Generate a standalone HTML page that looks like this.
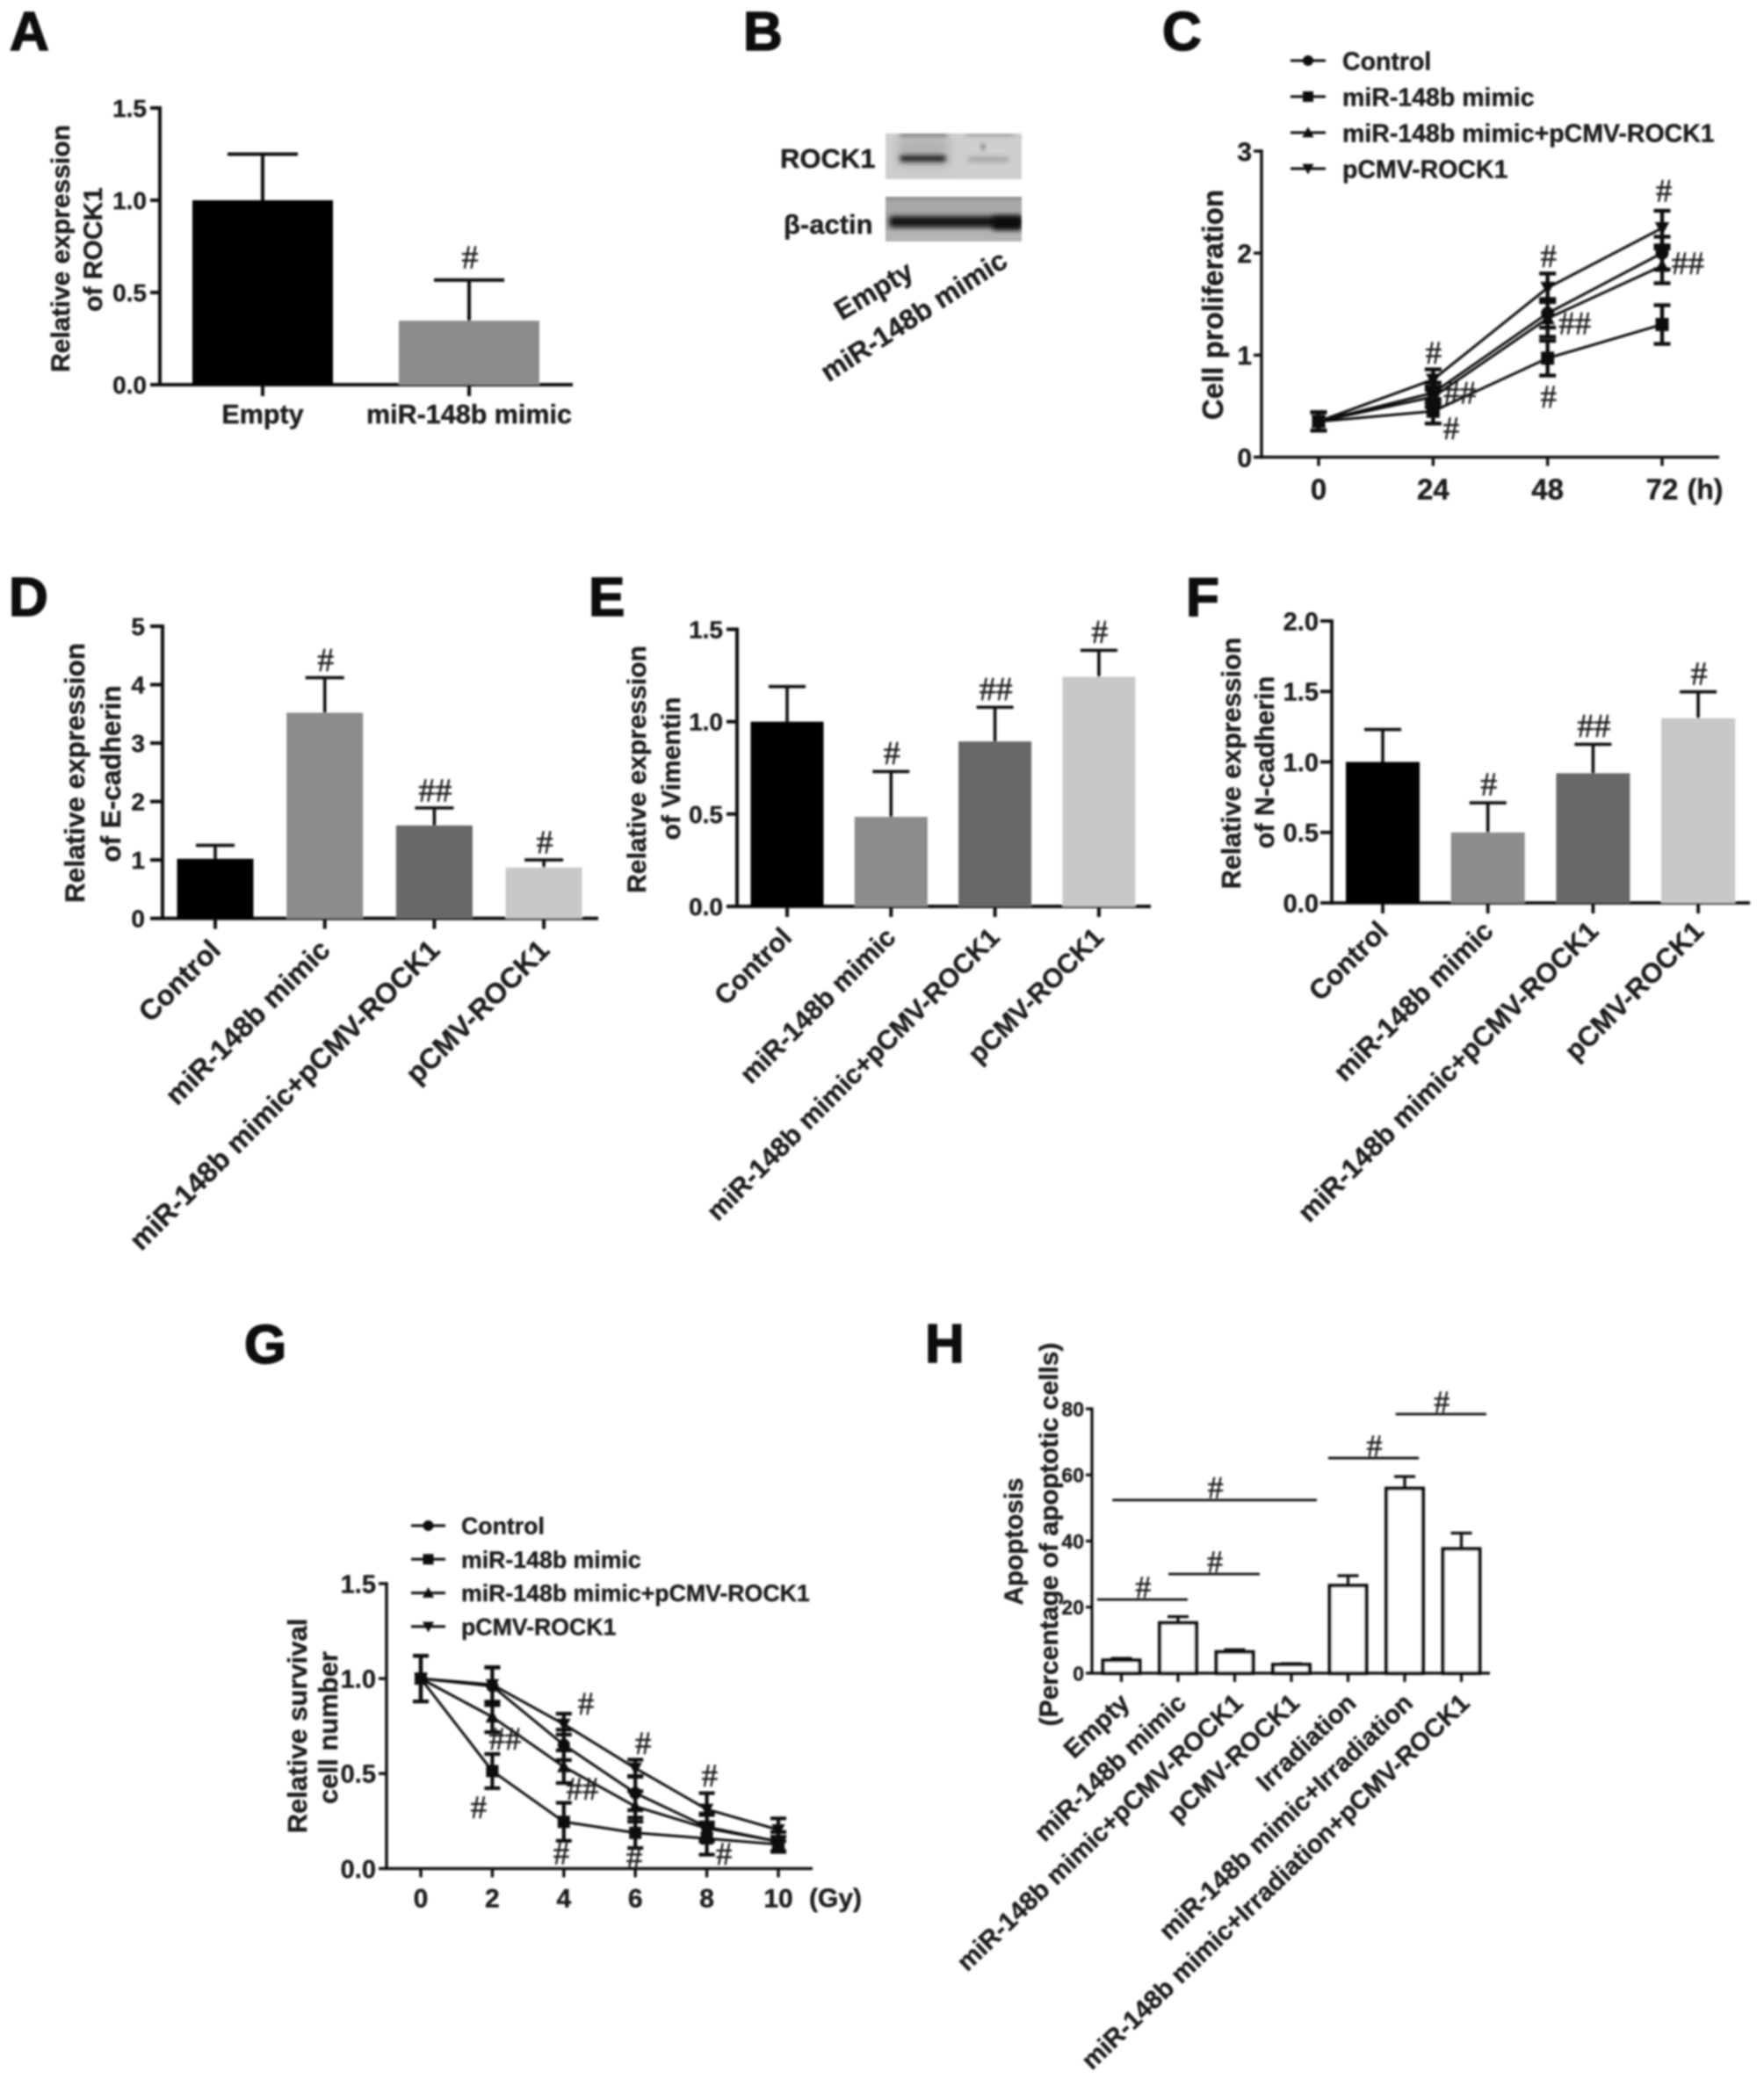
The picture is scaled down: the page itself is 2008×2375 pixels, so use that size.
<!DOCTYPE html>
<html lang="en">
<head>
<meta charset="utf-8">
<title>ROCK1 multi-panel figure</title>
<style>
html,body{margin:0;padding:0;background:#fff;}
svg{display:block;}
text{font-family:"Liberation Sans",sans-serif;font-weight:bold;fill:#1c1c1c;stroke:#1c1c1c;stroke-width:0.4px;}
.panel-letter{font-size:62px;fill:#0a0a0a;stroke:#0a0a0a;stroke-width:1.6px;}
.hash{font-family:"Liberation Serif",serif;font-weight:normal;fill:#1c1c1c;stroke:#1c1c1c;stroke-width:0.5px;}
</style>
</head>
<body>
<svg id="figure" xmlns="http://www.w3.org/2000/svg" width="2008" height="2375" viewBox="0 0 2008 2375">
<defs>
<filter id="soft" filterUnits="userSpaceOnUse" x="0" y="0" width="2008" height="2375"><feGaussianBlur stdDeviation="1"/></filter>
<filter id="blotBlur" x="-20%" y="-100%" width="140%" height="300%"><feGaussianBlur stdDeviation="2.6"/></filter>
<filter id="blotBlurWide" x="-20%" y="-100%" width="140%" height="300%"><feGaussianBlur stdDeviation="6"/></filter>
<clipPath id="blotClip1"><rect x="1008" y="152" width="155" height="52"/></clipPath>
<clipPath id="blotClip2"><rect x="1008" y="224" width="155" height="51"/></clipPath>
</defs>
<rect width="2008" height="2375" fill="#fff"/>
<g id="root" filter="url(#soft)">

<g id="panelA">
<text class="panel-letter" x="11" y="57">A</text>
<text font-size="30" text-anchor="middle" transform="translate(79 283) rotate(-90)">Relative expression</text>
<text font-size="30" text-anchor="middle" transform="translate(116 284) rotate(-90)">of ROCK1</text>
</g>

<g id="panelB">
<text class="panel-letter" x="846" y="57">B</text>
<text font-size="31" x="888" y="191">ROCK1</text>
<text font-size="31" x="892" y="266">β-actin</text>
<g clip-path="url(#blotClip1)">
<rect x="1008" y="152" width="155" height="52" fill="#cfcfcf"/>
<rect x="1022" y="156" width="58" height="34" fill="#b2b2b2" filter="url(#blotBlurWide)"/>
<rect x="1024" y="150" width="54" height="5" fill="#707070" filter="url(#blotBlur)"/>
<rect x="1100" y="150" width="54" height="4" fill="#8a8a8a" filter="url(#blotBlur)"/>
<rect x="1024" y="177" width="53" height="7" rx="3" fill="#1c1c1c" filter="url(#blotBlur)"/>
<rect x="1102" y="179" width="46" height="5" fill="#9c9c9c" filter="url(#blotBlur)"/>
<circle cx="1119" cy="167" r="3" fill="#666" filter="url(#blotBlur)"/>
</g>
<g clip-path="url(#blotClip2)">
<rect x="1008" y="224" width="155" height="51" fill="#a8a8a8"/>
<rect x="1008" y="262" width="155" height="13" fill="#b4b4b4"/>
<rect x="1008" y="222" width="155" height="4" fill="#7c7c7c" filter="url(#blotBlur)"/>
<rect x="1012" y="246" width="151" height="13" rx="4" fill="#141414" filter="url(#blotBlur)"/>
<rect x="1130" y="246" width="33" height="16" fill="#101010" filter="url(#blotBlur)"/>
</g>
<text font-size="32" text-anchor="end" transform="translate(1042 315) rotate(-31)">Empty</text>
<text font-size="32" text-anchor="end" transform="translate(1149 302) rotate(-33)">miR-148b mimic</text>
</g>

<g id="panelC">
<text class="panel-letter" x="1323" y="57">C</text>
<text font-size="33" text-anchor="middle" transform="translate(1392 347) rotate(-90)">Cell proliferation</text>
<text font-size="32" text-anchor="middle" x="1941" y="568">(h)</text>
</g>

<g id="panelD">
<text class="panel-letter" x="10" y="701">D</text>
<text font-size="31.5" text-anchor="middle" transform="translate(96 880) rotate(-90)">Relative expression</text>
<text font-size="31.5" text-anchor="middle" transform="translate(137 881) rotate(-90)">of E-cadherin</text>
</g>

<g id="panelE">
<text class="panel-letter" x="670" y="701">E</text>
<text font-size="30" text-anchor="middle" transform="translate(735 876) rotate(-90)">Relative expression</text>
<text font-size="30" text-anchor="middle" transform="translate(774 875) rotate(-90)">of Vimentin</text>
</g>

<g id="panelF">
<text class="panel-letter" x="1350" y="701">F</text>
<text font-size="30.5" text-anchor="middle" transform="translate(1412 869) rotate(-90)">Relative expression</text>
<text font-size="30.5" text-anchor="middle" transform="translate(1450 868) rotate(-90)">of N-cadherin</text>
</g>

<g id="panelG">
<text class="panel-letter" x="278" y="1552">G</text>
<text font-size="31" text-anchor="middle" transform="translate(349 1965) rotate(-90)">Relative survival</text>
<text font-size="31" text-anchor="middle" transform="translate(384 1967) rotate(-90)">cell number</text>
<text font-size="30" text-anchor="middle" x="951" y="2171">(Gy)</text>
</g>

<g id="panelH">
<text class="panel-letter" x="1053" y="1551">H</text>
<text font-size="29.7" text-anchor="middle" transform="translate(1164 1755) rotate(-90)">Apoptosis</text>
<text font-size="30" text-anchor="middle" transform="translate(1204 1747) rotate(-90)">(Percentage of apoptotic cells)</text>
</g>
</g>
</svg>

<script>
/* ---------- Panel A data ---------- */
const panelACategories = ['Empty', 'miR-148b mimic'];
const panelAValues = [1.0, 0.347];
const panelAErrors = [0.25, 0.22];
const panelAMarks = ['', '#'];
const panelAYTicks = [0, 0.5, 1.0, 1.5];
const panelAYLabels = ['0.0', '0.5', '1.0', '1.5'];

/* ---------- Panels D / E / F data ---------- */
const treatmentCategories = ['Control', 'miR-148b mimic', 'miR-148b mimic+pCMV-ROCK1', 'pCMV-ROCK1'];
const panelDValues = [1.02, 3.52, 1.59, 0.87];
const panelDErrors = [0.23, 0.60, 0.30, 0.13];
const panelDMarks = ['', '#', '##', '#'];
const panelDYTicks = [0, 1, 2, 3, 4, 5];
const panelDYLabels = ['0', '1', '2', '3', '4', '5'];

const panelEValues = [1.0, 0.485, 0.893, 1.243];
const panelEErrors = [0.19, 0.245, 0.185, 0.143];
const panelEMarks = ['', '#', '##', '#'];
const panelEYTicks = [0, 0.5, 1.0, 1.5];
const panelEYLabels = ['0.0', '0.5', '1.0', '1.5'];

const panelFValues = [1.0, 0.5, 0.92, 1.31];
const panelFErrors = [0.23, 0.21, 0.205, 0.187];
const panelFMarks = ['', '#', '##', '#'];
const panelFYTicks = [0, 0.5, 1.0, 1.5, 2.0];
const panelFYLabels = ['0.0', '0.5', '1.0', '1.5', '2.0'];

/* ---------- Panel C data ---------- */
const seriesNames = ['Control', 'miR-148b mimic', 'miR-148b mimic+pCMV-ROCK1', 'pCMV-ROCK1'];
const panelCHours = [0, 24, 48, 72];
const panelCControl = [0.35, 0.63, 1.41, 2.0];
const panelCControlErr = [0.09, 0.1, 0.14, 0.16];
const panelCMimic = [0.35, 0.45, 0.97, 1.30];
const panelCMimicErr = [0.09, 0.12, 0.17, 0.19];
const panelCCombo = [0.35, 0.59, 1.36, 1.875];
const panelCComboErr = [0.09, 0.1, 0.18, 0.17];
const panelCPcmv = [0.35, 0.76, 1.66, 2.245];
const panelCPcmvErr = [0.09, 0.1, 0.14, 0.17];
const panelCYTicks = [0, 1, 2, 3];
const panelCYLabels = ['0', '1', '2', '3'];
const panelCXLabels = ['0', '24', '48', '72'];
const panelCHashLabels = ['#', '#', '##', '##', '#', '##', '#', '#'];
const panelCHashHours = [72.4, 48.2, 53.7, 77.4, 24.1, 29.6, 27.8, 48.2];
const panelCHashValues = [2.61, 1.97, 1.31, 1.90, 1.02, 0.63, 0.28, 0.59];

/* ---------- Panel G data ---------- */
const panelGDoses = [0, 2, 4, 6, 8, 10];
const panelGControl = [1.0, 0.96, 0.651, 0.397, 0.219, 0.142];
const panelGControlErr = [0.12, 0.1, 0.08, 0.09, 0.07, 0.05];
const panelGMimic = [1.0, 0.513, 0.246, 0.188, 0.158, 0.127];
const panelGMimicErr = [0.12, 0.09, 0.1, 0.08, 0.085, 0.04];
const panelGCombo = [1.0, 0.798, 0.536, 0.327, 0.212, 0.142];
const panelGComboErr = [0.12, 0.08, 0.086, 0.08, 0.07, 0.05];
const panelGPcmv = [1.0, 0.968, 0.76, 0.528, 0.312, 0.204];
const panelGPcmvErr = [0.12, 0.09, 0.055, 0.045, 0.085, 0.06];
const panelGYTicks = [0, 0.5, 1.0, 1.5];
const panelGYLabels = ['0.0', '0.5', '1.0', '1.5'];
const panelGXLabels = ['0', '2', '4', '6', '8', '10'];
const panelGHashLabels = ['#', '#', '#', '##', '##', '#', '#', '#', '#'];
const panelGHashDoses = [4.62, 6.22, 8.08, 2.36, 4.52, 1.62, 3.93, 5.97, 8.48];
const panelGHashValues = [0.868, 0.659, 0.488, 0.682, 0.419, 0.321, 0.08, 0.057, 0.076];

/* ---------- Panel H data ---------- */
const panelHCategories = ['Empty', 'miR-148b mimic', 'miR-148b mimic+pCMV-ROCK1', 'pCMV-ROCK1', 'Irradiation', 'miR-148b mimic+Irradiation', 'miR-148b mimic+Irradiation+pCMV-ROCK1'];
const panelHValues = [3.9, 15.2, 6.4, 2.6, 26.5, 55.9, 37.6];
const panelHErrors = [0.6, 1.9, 0.7, 0.3, 3.0, 3.6, 4.8];
const panelHYTicks = [0, 20, 40, 60, 80];
const panelHYLabels = ['0', '20', '40', '60', '80'];
const panelHBracketStarts = [-0.43, 0.83, -0.16, 3.65, 4.84];
const panelHBracketEnds = [1.17, 2.44, 3.45, 5.25, 6.44];
const panelHBracketLevels = [22.3, 30, 52.4, 65.1, 78.4];

/* ---------- Drawing helpers ---------- */
const NS = 'http://www.w3.org/2000/svg';

function shape(parent, tag, attrs, name) {
  const el = document.createElementNS(NS, tag);
  for (const k in attrs) el.setAttribute(k, attrs[k]);
  
  
  parent.appendChild(el);
  return el;
}

function label(parent, str, attrs, name) {
  const el = document.createElementNS(NS, 'text');
  for (const k in attrs) el.setAttribute(k, attrs[k]);
  el.textContent = str;
  
  
  parent.appendChild(el);
  return el;
}

function hashMark(parent, str, x, cy, size) {
  const el = label(parent, str, {
    x: x, y: cy + size * 0.33, 'font-size': size, 'text-anchor': 'middle', 'class': 'hash'
  }, 'significance-mark');
  return el;
}

function makeLinear(d0, d1, r0, r1) {
  return function (v) { return r0 + (v - d0) / (d1 - d0) * (r1 - r0); };
}

function seg(parent, x1, y1, x2, y2, w, name) {
  return shape(parent, 'line', { x1: x1, y1: y1, x2: x2, y2: y2, stroke: '#111', 'stroke-width': w }, name);
}

function drawAxes(g, c, yScale, yTicks, yLabels) {
  const yTop = yScale(yTicks[yTicks.length - 1]);
  const yBase = yScale(0);
  seg(g, c.axisX, yTop - c.stroke / 2, c.axisX, yBase + c.stroke / 2, c.stroke, 'y-axis-line');
  seg(g, c.axisX - c.tickLen, yBase, c.xEnd, yBase, c.stroke, 'x-axis-line');
  yTicks.forEach(function (t, i) {
    const y = yScale(t);
    if (t !== 0) seg(g, c.axisX - c.tickLen, y, c.axisX, y, c.stroke, 'y-axis-tick');
    label(g, yLabels[i], {
      x: c.axisX - c.labelGap, y: y + c.tickFont * 0.36,
      'font-size': c.tickFont, 'text-anchor': 'end'
    }, 'y-tick-label');
  });
}

function drawBarPanel(g, c, categories, values, errors, marks, yTicks, yLabels) {
  const yScale = makeLinear(0, yTicks[yTicks.length - 1], c.yZero, c.yTop);
  const xPos = function (i) { return c.firstX + i * c.step; };
  drawAxes(g, c, yScale, yTicks, yLabels);
  values.forEach(function (v, i) {
    const cx = xPos(i);
    const top = yScale(v + errors[i]);
    seg(g, cx, yScale(v), cx, top, c.errStroke, 'error-bar-stem');
    seg(g, cx - c.capHalf, top, cx + c.capHalf, top, c.errStroke, 'error-bar-cap');
    const s = c.outline ? c.outline : 0;
    shape(g, 'rect', {
      x: cx - c.barWidth / 2 + s / 2, y: yScale(v),
      width: c.barWidth - s, height: yScale(0) - yScale(v),
      fill: c.fills[i % c.fills.length],
      stroke: s ? '#111' : 'none', 'stroke-width': s
    }, 'bar-' + String(categories[i]).toLowerCase().replace(/[^a-z0-9]+/g, '-'));
    seg(g, cx, yScale(0), cx, yScale(0) + c.xTickLen, c.stroke, 'x-axis-tick');
    if (marks && marks[i]) hashMark(g, marks[i], cx + 1, top - c.markGap, c.markSize);
    if (c.labelAngle) {
      const ax = cx + c.labelDX;
      const ay = yScale(0) + c.labelDY;
      label(g, categories[i], {
        'font-size': c.catFont, 'text-anchor': 'end',
        transform: 'translate(' + ax + ' ' + ay + ') rotate(' + c.labelAngle + ')'
      }, 'x-category-label');
    } else {
      label(g, categories[i], {
        x: cx, y: yScale(0) + c.labelDY, 'font-size': c.catFont, 'text-anchor': 'middle'
      }, 'x-category-label');
    }
  });
  return { xPos: xPos, yScale: yScale };
}

function drawMarker(g, kind, cx, cy, r, name) {
  if (kind === 'circle') {
    return shape(g, 'circle', { cx: cx, cy: cy, r: r, fill: '#111' }, name);
  }
  if (kind === 'square') {
    return shape(g, 'rect', { x: cx - r, y: cy - r, width: 2 * r, height: 2 * r, fill: '#111' }, name);
  }
  const d = kind === 'up' ? 1 : -1;
  const pts = [[cx - r * 1.1, cy + d * r * 0.9], [cx + r * 1.1, cy + d * r * 0.9], [cx, cy - d * r * 1.1]];
  return shape(g, 'polygon', { points: pts.map(function (p) { return p.join(','); }).join(' '), fill: '#111' }, name);
}

function drawSeries(g, c, xScale, yScale, xs, values, errors, kind, name) {
  const pts = values.map(function (v, i) { return xScale(xs[i]) + ',' + yScale(v); }).join(' ');
  shape(g, 'polyline', { points: pts, fill: 'none', stroke: '#111', 'stroke-width': c.lineWidth, 'stroke-linejoin': 'round' }, 'line-' + name);
  values.forEach(function (v, i) {
    const x = xScale(xs[i]);
    const hi = yScale(v + errors[i]);
    const lo = yScale(v - errors[i]);
    seg(g, x, hi, x, lo, c.errStroke, 'error-bar-stem');
    seg(g, x - c.capHalf, hi, x + c.capHalf, hi, c.errStroke, 'error-bar-cap');
    seg(g, x - c.capHalf, lo, x + c.capHalf, lo, c.errStroke, 'error-bar-cap');
    drawMarker(g, kind, x, yScale(v), c.markerR, 'point-' + name);
  });
}

function drawLegend(g, c, names, kinds) {
  names.forEach(function (n, i) {
    const y = c.legendY + i * c.legendStep;
    seg(g, c.legendLineX1, y, c.legendLineX2, y, 3, 'legend-line');
    drawMarker(g, kinds[i], (c.legendLineX1 + c.legendLineX2) / 2, y, c.legendMarkerR, 'legend-marker');
    label(g, n, { x: c.legendTextX, y: y + c.legendFont * 0.36, 'font-size': c.legendFont }, 'legend-entry');
  });
}

function drawLinePanel(g, c, xs, xLabels, yTicks, yLabels, seriesValues, seriesErrors, hashLabels, hashXs, hashYs) {
  const yScale = makeLinear(0, yTicks[yTicks.length - 1], c.yZero, c.yTop);
  const xScale = makeLinear(xs[0], xs[xs.length - 1], c.firstX, c.lastX);
  drawAxes(g, c, yScale, yTicks, yLabels);
  xs.forEach(function (x, i) {
    seg(g, xScale(x), yScale(0), xScale(x), yScale(0) + c.xTickLen, c.stroke, 'x-axis-tick');
    label(g, xLabels[i], {
      x: xScale(x), y: yScale(0) + c.xLabelDY, 'font-size': c.xFont, 'text-anchor': 'middle'
    }, 'x-tick-label');
  });
  const kinds = ['circle', 'square', 'up', 'down'];
  const keys = ['control', 'mimic', 'mimic-plus-pcmv', 'pcmv'];
  seriesValues.forEach(function (vals, i) {
    drawSeries(g, c, xScale, yScale, xs, vals, seriesErrors[i], kinds[i], keys[i]);
  });
  hashLabels.forEach(function (h, i) {
    hashMark(g, h, xScale(hashXs[i]), yScale(hashYs[i]), c.markSize);
  });
  drawLegend(g, c, seriesNames, kinds);
}

/* ---------- Render panels ---------- */
const greys = ['#000000', '#8c8c8c', '#686868', '#c8c8c8'];

drawBarPanel(document.getElementById('panelA'), {
  axisX: 182, xEnd: 652, yZero: 438, yTop: 123, stroke: 4, tickLen: 11, labelGap: 15, tickFont: 28,
  firstX: 299, step: 235, barWidth: 160, capHalf: 40, errStroke: 4, xTickLen: 13,
  fills: greys, markGap: 26, markSize: 38, catFont: 30.5, labelDY: 44
}, panelACategories, panelAValues, panelAErrors, panelAMarks, panelAYTicks, panelAYLabels);

drawBarPanel(document.getElementById('panelD'), {
  axisX: 185, xEnd: 681, yZero: 1045.6, yTop: 713, stroke: 4, tickLen: 14, labelGap: 20, tickFont: 28,
  firstX: 245, step: 124.7, barWidth: 87, capHalf: 22, errStroke: 3.6, xTickLen: 12,
  fills: greys, markGap: 20, markSize: 38, catFont: 32.5, labelAngle: -45, labelDX: 8, labelDY: 38
}, treatmentCategories, panelDValues, panelDErrors, panelDMarks, panelDYTicks, panelDYLabels);

drawBarPanel(document.getElementById('panelE'), {
  axisX: 839, xEnd: 1310, yZero: 1032, yTop: 716.5, stroke: 4, tickLen: 12, labelGap: 16, tickFont: 28,
  firstX: 896, step: 118.3, barWidth: 83, capHalf: 21, errStroke: 3.6, xTickLen: 12,
  fills: greys, markGap: 21, markSize: 38, catFont: 30.7, labelAngle: -45, labelDX: 7, labelDY: 37
}, treatmentCategories, panelEValues, panelEErrors, panelEMarks, panelEYTicks, panelEYLabels);

drawBarPanel(document.getElementById('panelF'), {
  axisX: 1516, xEnd: 1992, yZero: 1028, yTop: 707, stroke: 3.8, tickLen: 13, labelGap: 15, tickFont: 29,
  firstX: 1574, step: 119.7, barWidth: 84, capHalf: 21, errStroke: 3.6, xTickLen: 12,
  fills: greys, markGap: 21, markSize: 38, catFont: 31.5, labelAngle: -45, labelDX: 8, labelDY: 34
}, treatmentCategories, panelFValues, panelFErrors, panelFMarks, panelFYTicks, panelFYLabels);

drawLinePanel(document.getElementById('panelC'), {
  axisX: 1436, xEnd: 1957, yZero: 520.5, yTop: 172, stroke: 3.4, tickLen: 9, labelGap: 11, tickFont: 30,
  firstX: 1501, lastX: 1892, xTickLen: 10, xLabelDY: 48, xFont: 33,
  lineWidth: 3, errStroke: 4.4, capHalf: 9.5, markerR: 7.5, markSize: 37,
  legendY: 69, legendStep: 41, legendLineX1: 1469, legendLineX2: 1509, legendTextX: 1528, legendFont: 28.5, legendMarkerR: 6
}, panelCHours, panelCXLabels, panelCYTicks, panelCYLabels,
  [panelCControl, panelCMimic, panelCCombo, panelCPcmv],
  [panelCControlErr, panelCMimicErr, panelCComboErr, panelCPcmvErr],
  panelCHashLabels, panelCHashHours, panelCHashValues);

drawLinePanel(document.getElementById('panelG'), {
  axisX: 440, xEnd: 925, yZero: 2127.4, yTop: 1803, stroke: 3.4, tickLen: 9, labelGap: 12, tickFont: 29,
  firstX: 479, lastX: 886, xTickLen: 10, xLabelDY: 44, xFont: 30,
  lineWidth: 3, errStroke: 4.2, capHalf: 9, markerR: 7, markSize: 37,
  legendY: 1737, legendStep: 38.3, legendLineX1: 468, legendLineX2: 507, legendTextX: 525, legendFont: 26.7, legendMarkerR: 6
}, panelGDoses, panelGXLabels, panelGYTicks, panelGYLabels,
  [panelGControl, panelGMimic, panelGCombo, panelGPcmv],
  [panelGControlErr, panelGMimicErr, panelGComboErr, panelGPcmvErr],
  panelGHashLabels, panelGHashDoses, panelGHashValues);

const panelHGroup = document.getElementById('panelH');
const panelHScales = drawBarPanel(panelHGroup, {
  axisX: 1243, xEnd: 1696, yZero: 1905, yTop: 1604, stroke: 3.2, tickLen: 7, labelGap: 9, tickFont: 23,
  firstX: 1276.5, step: 64.5, barWidth: 46, capHalf: 12, errStroke: 3.2, xTickLen: 10,
  fills: ['#ffffff'], outline: 4.2, catFont: 29.5, labelAngle: -44, labelDX: 11, labelDY: 36
}, panelHCategories, panelHValues, panelHErrors, null, panelHYTicks, panelHYLabels);

panelHBracketLevels.forEach(function (lvl, i) {
  const x1 = panelHScales.xPos(panelHBracketStarts[i]);
  const x2 = panelHScales.xPos(panelHBracketEnds[i]);
  const y = panelHScales.yScale(lvl);
  seg(panelHGroup, x1, y, x2, y, 2.8, 'significance-bracket');
  hashMark(panelHGroup, '#', (x1 + x2) / 2 + 1, y - 14, 36);
});
</script>
</body>
</html>
